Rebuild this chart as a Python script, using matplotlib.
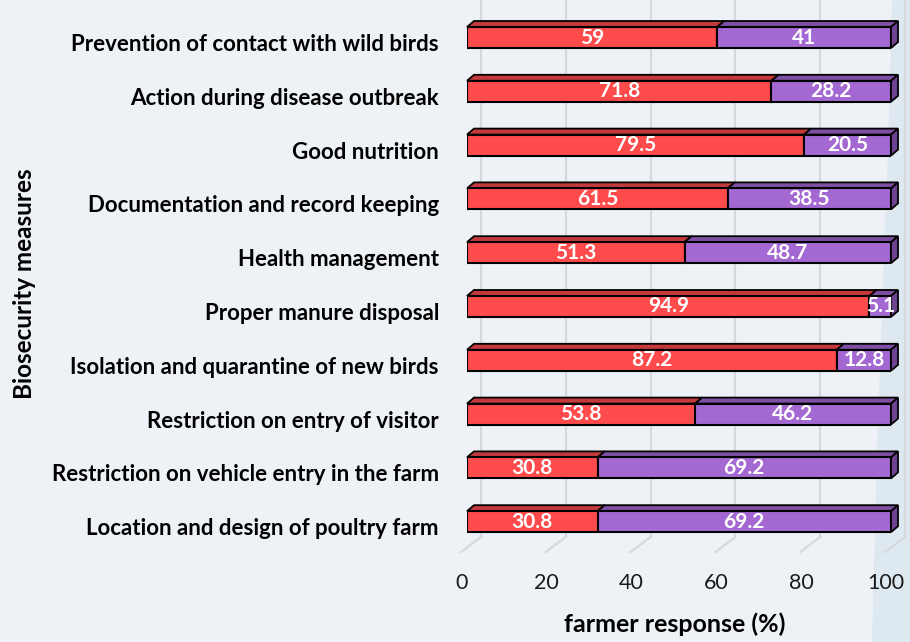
import matplotlib
matplotlib.use("Agg")
import matplotlib.pyplot as plt
from matplotlib.patches import Polygon
from matplotlib.transforms import offset_copy

# Biosecurity measures, listed top to bottom
measures = [
    "Prevention of contact with wild birds",
    "Action during disease outbreak",
    "Good nutrition",
    "Documentation and record keeping",
    "Health management",
    "Proper manure disposal",
    "Isolation and quarantine of new birds",
    "Restriction on entry of visitor",
    "Restriction on vehicle entry in the farm",
    "Location and design of poultry farm",
]
adopted = [59, 71.8, 79.5, 61.5, 51.3, 94.9, 87.2, 53.8, 30.8, 30.8]
not_adopted = [41, 28.2, 20.5, 38.5, 48.7, 5.1, 12.8, 46.2, 69.2, 69.2]
xticks = [0, 20, 40, 60, 80, 100]

W, H, DPI = 910, 642, 100
fig = plt.figure(figsize=(W / DPI, H / DPI), dpi=DPI)
fig.patch.set_facecolor("#EEF2F6")
FONT = ["Lato", "DejaVu Sans"]

# soft blue band along the right edge
band = fig.add_axes([0, 0, 1, 1], zorder=-5)
band.set_xlim(0, W)
band.set_ylim(H, 0)
band.axis("off")
band.add_patch(Polygon([(892, 0), (W, 0), (W, H), (872, H), (878, 420), (888, 150)],
                       closed=True, facecolor="#DDE8F0", edgecolor="none"))

# main axes: x 0..100 maps to the bar front faces
x0_px, x100_px = 467, 891
row0_px, step_px = 37.5, 53.8
top_px, bot_px = 0, 600
ax = fig.add_axes([x0_px / W, (H - bot_px) / H, (x100_px - x0_px) / W, (bot_px - top_px) / H])
ax.set_xlim(0, 100)
ax.set_ylim((bot_px - row0_px) / step_px, (top_px - row0_px) / step_px)
ax.axis("off")
ax.patch.set_alpha(0)

px_x = (x100_px - x0_px) / 100.0   # pixels per percent
px_y = step_px                      # pixels per row

def dxp(p):
    return p / px_x

def dyp(p):
    return p / px_y

# back wall and floor gridlines
wall_dx, floor_front_dx = 14, -6
floor_back_y = (537 - row0_px) / step_px
floor_front_y = (552 - row0_px) / step_px
wall_top_y = (0 - row0_px) / step_px
grid_c = "#D6D9DC"
for t in xticks:
    xb = t + dxp(wall_dx)
    ax.plot([xb, xb], [wall_top_y, floor_back_y], color=grid_c, lw=1.6, clip_on=False, zorder=1)
    ax.plot([xb, t + dxp(floor_front_dx)], [floor_back_y, floor_front_y],
            color=grid_c, lw=1.6, clip_on=False, zorder=1)

# 3D-looking stacked bars
bh = 21 / px_y
ddx, ddy = dxp(7), dyp(6)
red_f, red_t = "#FF4B4B", "#C43A3C"
pur_f, pur_t, pur_s = "#A468D2", "#7E4FA3", "#6E4392"
for i, (a, b) in enumerate(zip(adopted, not_adopted)):
    yt, yb = i - bh / 2, i + bh / 2
    segs = [(0, a, red_f, red_t), (a, a + b, pur_f, pur_t)]
    for (s, e, fc, tc) in segs:
        ax.add_patch(Polygon([(s, yt), (s + ddx, yt - ddy), (e + ddx, yt - ddy), (e, yt)],
                             closed=True, facecolor=tc, edgecolor="black", lw=1.3,
                             zorder=3, clip_on=False))
    ax.barh([i], [a], left=0, height=bh, color=red_f, edgecolor="black", lw=1.5, zorder=4)
    ax.barh([i], [b], left=a, height=bh, color=pur_f, edgecolor="black", lw=1.5, zorder=4)
    end = a + b
    ax.add_patch(Polygon([(end, yt), (end + ddx, yt - ddy), (end + ddx, yb - ddy), (end, yb)],
                         closed=True, facecolor=pur_s, edgecolor="black", lw=1.3,
                         zorder=3, clip_on=False))
    ax.text(a / 2, i, f"{a:g}", ha="center", va="center", color="white",
            fontsize=15, fontweight="bold", family=FONT, zorder=6)
    ax.text(a + b / 2, i, f"{b:g}", ha="center", va="center", color="white",
            fontsize=15, fontweight="bold", family=FONT, zorder=6)

# category labels
lab_tr = offset_copy(ax.get_yaxis_transform(), fig=fig, x=-(x0_px - 439), y=-7, units="dots")
for i, m in enumerate(measures):
    ax.text(0, i, m, transform=lab_tr, ha="right", va="center", fontsize=16,
            fontweight="bold", family=FONT, color="black")

# x tick labels along the front of the floor
tick_y = (583 - row0_px) / step_px
tick_tr = offset_copy(ax.transData, fig=fig, x=-5, y=0, units="dots")
for t in xticks:
    ax.text(t, tick_y, f"{t}", transform=tick_tr, ha="center", va="center",
            fontsize=15.5, family=FONT, color="#1a1a1a", clip_on=False)

fig.text(675 / W, 1 - 624 / H, "farmer response (%)", ha="center", va="center",
         fontsize=18, fontweight="bold", family=FONT)
fig.text(25 / W, 1 - 284 / H, "Biosecurity measures", ha="center", va="center",
         rotation=90, fontsize=17.5, fontweight="bold", family=FONT)

fig.savefig("out.png", dpi=DPI, facecolor=fig.get_facecolor())
